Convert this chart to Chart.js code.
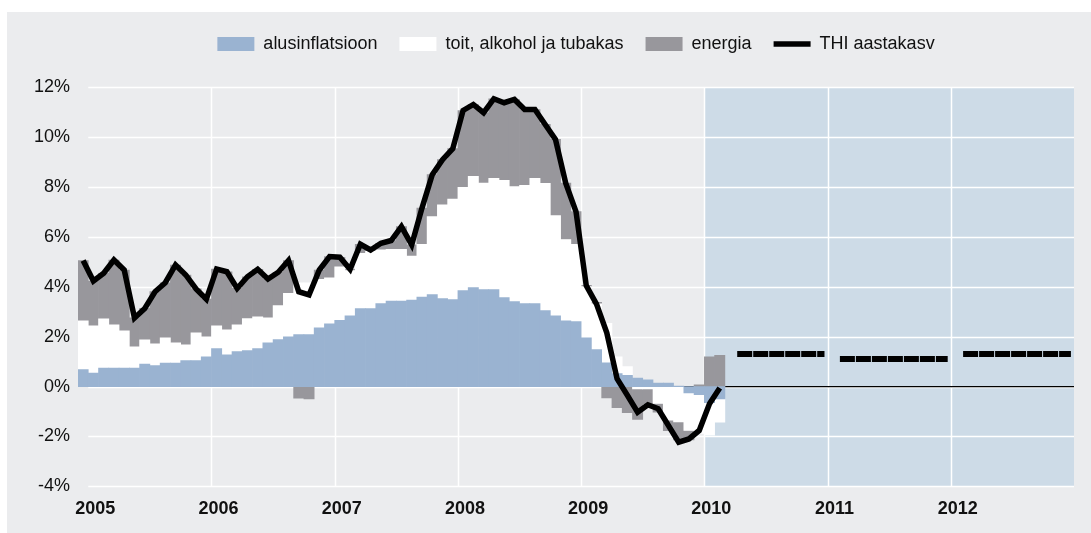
<!DOCTYPE html>
<html>
<head>
<meta charset="utf-8">
<script src="https://cdn.jsdelivr.net/npm/chart.js@4.4.1/dist/chart.umd.min.js"></script>
<style>
    html, body { margin: 0; padding: 0; background: #ffffff; }
</style>
</head>
<body>
<canvas id="inflChart" width="1091" height="533"></canvas>
<script>
// monthly observations, Dec 2004 - Feb 2010
const months = [
    "2004-12",
    "2005-01", "2005-02", "2005-03", "2005-04", "2005-05", "2005-06", "2005-07", "2005-08", "2005-09", "2005-10", "2005-11", "2005-12",
    "2006-01", "2006-02", "2006-03", "2006-04", "2006-05", "2006-06", "2006-07", "2006-08", "2006-09", "2006-10", "2006-11", "2006-12",
    "2007-01", "2007-02", "2007-03", "2007-04", "2007-05", "2007-06", "2007-07", "2007-08", "2007-09", "2007-10", "2007-11", "2007-12",
    "2008-01", "2008-02", "2008-03", "2008-04", "2008-05", "2008-06", "2008-07", "2008-08", "2008-09", "2008-10", "2008-11", "2008-12",
    "2009-01", "2009-02", "2009-03", "2009-04", "2009-05", "2009-06", "2009-07", "2009-08", "2009-09", "2009-10", "2009-11", "2009-12",
    "2010-01", "2010-02"
];

// alusinflatsioon
const core = [
    0.68,
    0.54, 0.74, 0.74, 0.74, 0.74, 0.90, 0.84, 0.94, 0.94, 1.04, 1.04, 1.19,
    1.52, 1.27, 1.40, 1.44, 1.52, 1.75, 1.88, 1.99, 2.08, 2.08, 2.35, 2.51,
    2.65, 2.83, 3.12, 3.12, 3.32, 3.42, 3.42, 3.46, 3.58, 3.68, 3.52, 3.48,
    3.84, 3.96, 3.88, 3.88, 3.56, 3.40, 3.32, 3.32, 3.04, 2.83, 2.63, 2.60,
    1.95, 1.48, 0.95, 0.52, 0.45, 0.34, 0.27, 0.14, 0.14, 0.02, -0.26, -0.33,
    -0.65, -0.50
];

// toit, alkohol ja tubakas
const food = [
    1.95,
    1.89, 1.97, 1.73, 1.49, 0.85, 0.97, 0.87, 1.01, 0.81, 0.63, 1.11, 0.80,
    0.91, 1.00, 1.07, 1.28, 1.27, 1.00, 1.36, 1.74, 2.08, 2.08, 1.95, 1.85,
    2.15, 1.82, 2.22, 2.30, 2.16, 2.08, 2.08, 1.77, 2.12, 3.13, 3.76, 4.03,
    4.14, 4.46, 4.27, 4.46, 4.70, 4.61, 4.74, 5.02, 5.10, 4.02, 3.26, 3.10,
    2.05, 1.83, 1.58, 0.67, 0.35, -0.09, -0.09, -0.68, -1.35, -1.42, -1.50, -1.55,
    -1.30, -0.93
];

// energia
const energy = [
    2.42,
    1.80, 1.83, 2.60, 2.44, 1.16, 1.26, 2.09, 2.21, 3.12, 2.80, 1.76, 1.51,
    2.28, 2.33, 1.46, 1.68, 1.91, 1.56, 1.34, 1.32, -0.47, -0.50, 0.37, 0.85,
    0.38, 0.05, 0.36, 0.05, 0.26, 0.35, 0.91, 0.45, 1.45, 1.68, 1.81, 2.02,
    3.08, 2.88, 2.82, 3.19, 3.11, 3.49, 3.04, 2.76, 2.36, 3.05, 2.26, 1.31,
    0.05, 0.06, -0.46, -0.85, -1.05, -1.23, -0.62, -0.35, -0.42, -0.72, -0.38, 0.07,
    1.19, 1.25
];

// THI aastakasv
const hicp = [
    5.05,
    4.23, 4.54, 5.07, 4.67, 2.75, 3.13, 3.80, 4.16, 4.87, 4.47, 3.91, 3.50,
    4.71, 4.60, 3.93, 4.40, 4.70, 4.31, 4.58, 5.05, 3.80, 3.67, 4.67, 5.21,
    5.18, 4.70, 5.70, 5.47, 5.74, 5.85, 6.41, 5.68, 7.15, 8.49, 9.09, 9.53,
    11.06, 11.30, 10.97, 11.53, 11.37, 11.50, 11.10, 11.10, 10.50, 9.90, 8.15, 7.01,
    4.04, 3.30, 2.15, 0.31, -0.35, -1.03, -0.73, -0.89, -1.56, -2.23, -2.10, -1.76,
    -0.69, -0.06
];

// annual forecast of THI
const forecastYears = [2010, 2011, 2012];
const forecastHicp = [1.3, 1.1, 1.3];

const yearLabels = ["2005", "2006", "2007", "2008", "2009", "2010", "2011", "2012"];
const yTicks = [-4, -2, 0, 2, 4, 6, 8, 10, 12];

const FONT = "'Liberation Sans', Arial, Helvetica, sans-serif";
Chart.defaults.font.family = FONT;
Chart.defaults.color = "#111111";

// x axis counts months from Jan 2005
const monthX = m => {
    const [yr, mo] = m.split("-").map(Number);
    return (yr - 2005) * 12 + (mo - 1) + 0.5;
};
const asPoints = vals => months.map((m, i) => ({ x: monthX(m), y: vals[i] }));

const dataEnd = monthX(months[months.length - 1]) + 0.5;
const shadeFrom = (forecastYears[0] - 2005) * 12;
const zeroLineFrom = monthX("2009-11") - 0.5;

const forecastSets = forecastYears.map((yr, i) => {
    const yearStart = (yr - 2005) * 12;
    const from = Math.max(yearStart, dataEnd) + 1.2;
    const to = yearStart + 12 - 0.3;
    return {
        type: "line",
        label: "prognoos " + yr,
        data: [{ x: from, y: forecastHicp[i] }, { x: to, y: forecastHicp[i] }],
        borderColor: "#000000",
        backgroundColor: "#000000",
        borderWidth: 6,
        borderDash: [15, 1],
        pointRadius: 0,
        stack: "f" + i,
        order: 0
    };
});

// panel, forecast shading, grid
const backdrop = {
    id: "backdrop",
    beforeDraw(chart) {
        const c = chart.ctx;
        c.save();
        c.fillStyle = "#ffffff";
        c.fillRect(0, 0, chart.width, chart.height);
        c.fillStyle = "#ebecee";
        c.fillRect(7, 12, chart.width - 7, chart.height - 12);
        c.restore();
    },
    beforeDatasetsDraw(chart) {
        const c = chart.ctx;
        const a = chart.chartArea;
        const x = chart.scales.x;
        const y = chart.scales.y;
        const top = y.getPixelForValue(yTicks[yTicks.length - 1]);
        const bottom = y.getPixelForValue(yTicks[0]);
        const gridLeft = x.getPixelForValue(0);

        c.save();
        const xs = x.getPixelForValue(shadeFrom);
        c.fillStyle = "#cddbe7";
        c.fillRect(xs, top, a.right - xs, bottom - top);

        c.strokeStyle = "#ffffff";
        c.lineWidth = 1.5;
        yTicks.forEach(v => {
            const py = Math.round(y.getPixelForValue(v)) + 0.5;
            c.beginPath();
            c.moveTo(gridLeft, py);
            c.lineTo(a.right, py);
            c.stroke();
        });
        for (let i = 1; i < yearLabels.length; i++) {
            const px = Math.round(x.getPixelForValue(i * 12)) + 0.5;
            c.beginPath();
            c.moveTo(px, top);
            c.lineTo(px, bottom);
            c.stroke();
        }

        c.strokeStyle = "#000000";
        c.lineWidth = 1.3;
        const py0 = y.getPixelForValue(0);
        c.beginPath();
        c.moveTo(x.getPixelForValue(zeroLineFrom), py0);
        c.lineTo(a.right, py0);
        c.stroke();
        c.restore();
    }
};

const ctx = document.getElementById("inflChart");

new Chart(ctx, {
    type: "bar",
    data: {
        datasets: [
            {
                label: "alusinflatsioon",
                data: asPoints(core),
                backgroundColor: "#9ab3d1",
                borderWidth: 0,
                order: 1
            },
            {
                label: "toit, alkohol ja tubakas",
                data: asPoints(food),
                backgroundColor: "#ffffff",
                borderWidth: 0,
                order: 1
            },
            {
                label: "energia",
                data: asPoints(energy),
                backgroundColor: "#98979c",
                borderWidth: 0,
                order: 1
            },
            {
                type: "line",
                label: "THI aastakasv",
                data: asPoints(hicp),
                borderColor: "#000000",
                backgroundColor: "#000000",
                borderWidth: 5.5,
                borderJoinStyle: "miter",
                pointRadius: 0,
                tension: 0,
                stack: "thi",
                order: 0
            },
            ...forecastSets
        ]
    },
    options: {
        responsive: false,
        animation: false,
        devicePixelRatio: 1,
        layout: {
            padding: { top: 13, right: 17, bottom: 1, left: 0 }
        },
        datasets: {
            bar: {
                barPercentage: 1,
                categoryPercentage: 1
            }
        },
        plugins: {
            tooltip: { enabled: false },
            legend: {
                position: "top",
                fullSize: false,
                weight: 1000,
                labels: {
                    usePointStyle: true,
                    pointStyleWidth: 37,
                    boxHeight: 14,
                    padding: 22,
                    color: "#111111",
                    font: { size: 18 },
                    generateLabels: chart => Chart.defaults.plugins.legend.labels.generateLabels(chart)
                        .filter(l => l.datasetIndex < 4)
                        .sort((a, b) => a.datasetIndex - b.datasetIndex)
                        .map(l => Object.assign(l, { pointStyle: l.datasetIndex === 3 ? "line" : "rect" }))
                }
            },
            // empty title keeps a gap between legend and plot
            title: {
                display: true,
                text: "",
                fullSize: false,
                weight: 500,
                font: { size: 10 },
                padding: { top: 0, bottom: 12 }
            }
        },
        scales: {
            x: {
                type: "linear",
                stacked: true,
                offset: false,
                min: -1,
                max: 96,
                afterBuildTicks: s => {
                    s.ticks = yearLabels.map((_, i) => ({ value: i * 12 }));
                },
                grid: { display: false, drawTicks: false, offset: false },
                border: { display: false },
                ticks: {
                    padding: 12,
                    labelOffset: 7,
                    maxRotation: 0,
                    autoSkip: false,
                    color: "#111111",
                    font: { size: 18, weight: "bold" },
                    callback: (v, i) => yearLabels[i]
                }
            },
            y: {
                stacked: true,
                min: -4,
                max: 12,
                afterBuildTicks: s => {
                    s.ticks = yTicks.map(v => ({ value: v }));
                },
                afterFit: s => {
                    s.width = 78;
                },
                grid: { display: false, drawTicks: false },
                border: { display: false },
                ticks: {
                    padding: 8,
                    color: "#111111",
                    font: { size: 18 },
                    callback: v => v + "%"
                }
            }
        }
    },
    plugins: [backdrop]
});
</script>
</body>
</html>
